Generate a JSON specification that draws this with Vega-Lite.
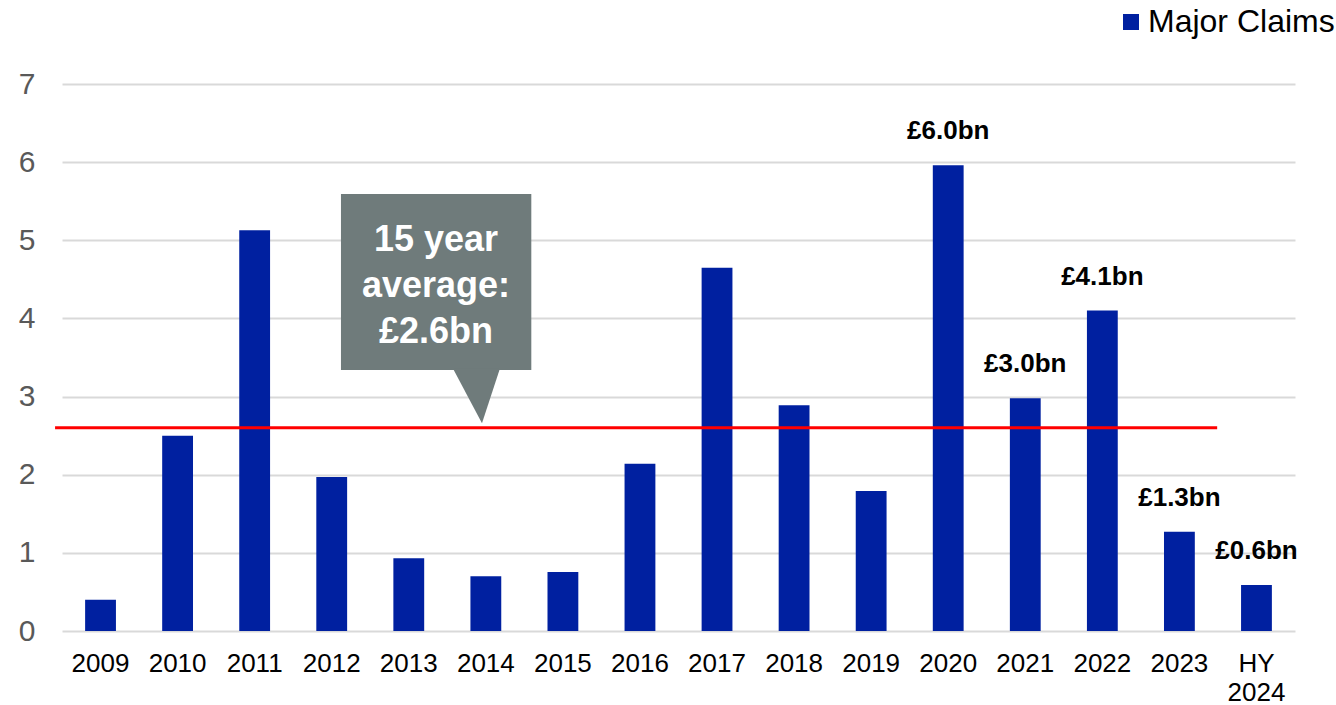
{
  "$schema": "https://vega.github.io/schema/vega-lite/v6.json",
  "autosize": "none",
  "width": 1233,
  "height": 547,
  "padding": {"left": 62, "top": 84, "right": 41, "bottom": 74},
  "config": {
    "view": {"stroke": null},
    "font": "Liberation Sans"
  },
  "layer": [
    {
      "data": {
        "values": [
          {"year": "2009", "value": 0.40, "label": ""},
          {"year": "2010", "value": 2.50, "label": ""},
          {"year": "2011", "value": 5.13, "label": ""},
          {"year": "2012", "value": 1.97, "label": ""},
          {"year": "2013", "value": 0.93, "label": ""},
          {"year": "2014", "value": 0.70, "label": ""},
          {"year": "2015", "value": 0.755, "label": ""},
          {"year": "2016", "value": 2.14, "label": ""},
          {"year": "2017", "value": 4.65, "label": ""},
          {"year": "2018", "value": 2.89, "label": ""},
          {"year": "2019", "value": 1.79, "label": ""},
          {"year": "2020", "value": 5.96, "label": "£6.0bn"},
          {"year": "2021", "value": 2.98, "label": "£3.0bn"},
          {"year": "2022", "value": 4.10, "label": "£4.1bn"},
          {"year": "2023", "value": 1.27, "label": "£1.3bn"},
          {"year": "HY 2024", "value": 0.59, "label": "£0.6bn"}
        ]
      },
      "encoding": {
        "x": {
          "field": "year",
          "type": "ordinal",
          "sort": null,
          "scale": {"paddingInner": 0.6, "paddingOuter": 0.3},
          "axis": {
            "title": null,
            "ticks": false,
            "domain": false,
            "labelAngle": 0,
            "labelFontSize": 26,
            "labelColor": "#000000",
            "labelPadding": 19,
            "labelLineHeight": 29,
            "labelExpr": "split(datum.label, ' ')"
          }
        },
        "y": {
          "field": "value",
          "type": "quantitative",
          "scale": {"domain": [0, 7], "nice": false},
          "axis": {
            "title": null,
            "values": [0, 1, 2, 3, 4, 5, 6, 7],
            "format": "d",
            "ticks": false,
            "domain": false,
            "grid": true,
            "gridColor": "#d9d9d9",
            "gridWidth": 2,
            "labelFontSize": 30,
            "labelColor": "#595959",
            "labelPadding": 27
          }
        }
      },
      "layer": [
        {
          "mark": {"type": "bar"},
          "encoding": {
            "color": {
              "datum": "Major Claims",
              "scale": {"range": ["#0020A0"]},
              "legend": {
                "title": null,
                "orient": "none",
                "legendX": 1053,
                "legendY": -78,
                "symbolType": "square",
                "symbolSize": 256,
                "symbolStrokeWidth": 0,
                "labelFontSize": 32,
                "labelColor": "#000000",
                "labelOffset": 1,
                "labelLimit": 0,
                "padding": 0
              }
            }
          }
        },
        {
          "mark": {"type": "text", "fontSize": 26, "fontWeight": "bold", "color": "#000000", "baseline": "alphabetic", "dy": -26},
          "encoding": {
            "text": {"field": "label"}
          }
        }
      ]
    },
    {
      "data": {"values": [{"x": -0.09, "x2": 14.99, "y": 2.6}]},
      "mark": {"type": "rule", "color": "#ff0000", "strokeWidth": 3},
      "encoding": {
        "x": {"field": "x", "type": "quantitative", "scale": {"domain": [0, 16], "nice": false, "zero": false}, "axis": null},
        "x2": {"field": "x2"},
        "y": {"field": "y", "type": "quantitative"}
      }
    },
    {
      "data": {"values": [{"x": 3.62, "x2": 6.09, "y": 5.593, "y2": 3.34}]},
      "mark": {"type": "rect", "color": "#6f7b7b"},
      "encoding": {
        "x": {"field": "x", "type": "quantitative", "scale": {"domain": [0, 16], "nice": false, "zero": false}, "axis": null},
        "x2": {"field": "x2"},
        "y": {"field": "y", "type": "quantitative"},
        "y2": {"field": "y2"}
      }
    },
    {
      "data": {"values": [
        {"x": 5.073, "y": 3.36, "y2": 3.36},
        {"x": 5.45, "y": 2.66, "y2": 3.36},
        {"x": 5.683, "y": 3.36, "y2": 3.36}
      ]},
      "mark": {"type": "area", "color": "#6f7b7b", "interpolate": "linear"},
      "encoding": {
        "x": {"field": "x", "type": "quantitative", "scale": {"domain": [0, 16], "nice": false, "zero": false}, "axis": null},
        "y": {"field": "y", "type": "quantitative"},
        "y2": {"field": "y2"}
      }
    },
    {
      "data": {"values": [{"x": 4.853, "y": 5.0, "text": "15 year\naverage:\n£2.6bn"}]},
      "mark": {"type": "text", "color": "#ffffff", "fontSize": 36, "fontWeight": "bold", "lineBreak": "\n", "lineHeight": 46, "align": "center", "baseline": "middle"},
      "encoding": {
        "x": {"field": "x", "type": "quantitative", "scale": {"domain": [0, 16], "nice": false, "zero": false}, "axis": null},
        "y": {"field": "y", "type": "quantitative"},
        "text": {"field": "text"}
      }
    }
  ],
  "resolve": {"scale": {"x": "independent"}}
}
